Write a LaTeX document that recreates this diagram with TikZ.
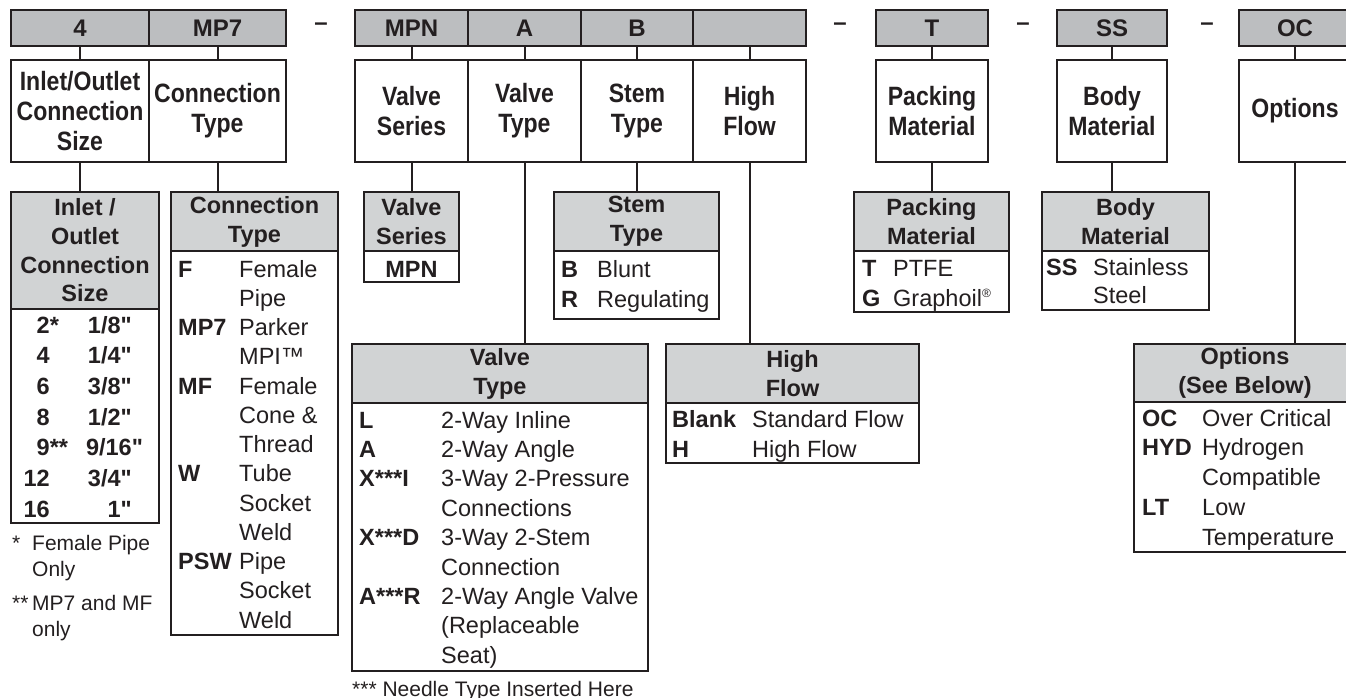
\documentclass[tikz,border=0pt]{standalone}
\usepackage{fontspec}
\setmainfont{Liberation Sans}
\newfontfamily\condfont[FakeStretch=0.87]{Liberation Sans Bold}
\usetikzlibrary{positioning}
\definecolor{ink}{HTML}{231F20}
\definecolor{codegray}{HTML}{BCBEC0}
\definecolor{headgray}{HTML}{D1D3D4}
\newcommand{\inch}{\XeTeXglyph\XeTeXcharglyph"22\relax}

\tikzset{
  codebox/.style={draw=ink, fill=codegray, line width=2.5pt, outer sep=0pt, inner sep=0pt,
    minimum height=36, font=\fontsize{24}{24}\selectfont\bfseries},
  lblbox/.style={draw=ink, fill=white, line width=2.5pt, outer sep=0pt, inner sep=0pt,
    minimum height=102, align=center, font=\condfont\fontsize{26.5}{30}\selectfont},
  tabhead/.style={draw=ink, fill=headgray, line width=2pt, outer sep=0pt, inner sep=0pt,
    align=center, font=\fontsize{23.5}{29}\selectfont\bfseries},
  tabbody/.style={draw=ink, fill=white, line width=2pt, outer sep=0pt, inner sep=0pt},
  link/.style={draw=ink, line width=2pt},
  cell/.style={inner sep=0pt, font=\fontsize{23.5}{#1}\selectfont},
  cell/.default=29.4,
  boldcell/.style={inner sep=0pt, font=\fontsize{23.5}{29.4}\selectfont\bfseries},
  note/.style={inner sep=0pt, font=\fontsize{21}{26}\selectfont},
}

\begin{document}
\begin{tikzpicture}[x=1pt,y=-1pt,every node/.style={text=ink}]
  \useasboundingbox (0,0) rectangle (1346,698);
  \clip (0,0) rectangle (1346,698);

  % ordering code row and its label boxes
  \foreach \n/\xa/\xb/\code/\lbl in {
      sz/11/149/4/{Inlet/Outlet\\Connection\\Size},
      ct/149/286/MP7/{Connection\\Type},
      vs/355/468/MPN/{Valve\\Series},
      vt/468/581/A/{Valve\\Type},
      st/581/693/B/{Stem\\Type},
      hf/693/806//{High\\Flow},
      pm/876/988/T/{Packing\\Material},
      bm/1057/1167/SS/{Body\\Material},
      op/1239/1351/OC/{Options}}
  {
    \node[codebox, minimum width=\xb-\xa] (code-\n) at ({(\xa+\xb)/2},28) {\code};
    \node[lblbox, minimum width=\xb-\xa] (lbl-\n) at ({(\xa+\xb)/2},111) {\lbl};
    \draw[link] (code-\n.south) -- (lbl-\n.north);
  }
  % separators
  \foreach \x [count=\i] in {321,840,1023,1207}
    \node[anchor=base, inner sep=0pt, font=\fontsize{24}{24}\selectfont\bfseries] (dash-\i) at (\x,31) {–};

  % Inlet / Outlet Connection Size
  \node[tabhead, minimum width=148, minimum height=117, font=\fontsize{23.5}{28.7}\selectfont\bfseries]
    (h-sz) at (85,250.5) {Inlet /\\Outlet\\Connection\\Size};
  \node[tabbody, minimum width=148, minimum height=214, anchor=north] (b-sz) at (h-sz.south) {};
  \draw[link] (lbl-sz.south) -- (lbl-sz.south |- h-sz.north);
  \foreach \cd/\mk/\sz [count=\i from 0] in {2/*/{1/8\inch}, 4//{1/4\inch}, 6//{3/8\inch},
      8//{1/2\inch}, 9/**/{9/16\rlap{\inch}}, 12//{3/4\inch}, 16//{1\inch}}
  {
    \node[boldcell, anchor=base east] (cd-\i) at (50,333+30.67*\i) {\cd\rlap{\mk}};
    \node[boldcell, anchor=base east] (in-\i) at (132,333+30.67*\i) {\sz};
  }
  \node[note, anchor=base west] (fn-1) at (12,550)
    {\begin{tabular}[t]{@{}p{20pt}@{}l@{}}*&Female Pipe\\&Only\end{tabular}};
  \node[note, anchor=base west] (fn-2) at (12,610)
    {\begin{tabular}[t]{@{}p{20pt}@{}l@{}}**&MP7 and MF\\&only\end{tabular}};

  % Connection Type
  \node[tabhead, minimum width=167, minimum height=59] (h-ct) at (254.5,221.5) {Connection\\Type};
  \node[tabbody, minimum width=167, minimum height=384, anchor=north] (b-ct) at (h-ct.south) {};
  \draw[link] (lbl-ct.south) -- (lbl-ct.south |- h-ct.north);
  \node[cell=29.25, anchor=base west] (r-ct) at (178,277)
    {\begin{tabular}[t]{@{}p{61pt}@{}l@{}}
      \textbf{F}&Female\\&Pipe\\
      \textbf{MP7}&Parker\\&MPI™\\
      \textbf{MF}&Female\\&Cone \&\\&Thread\\
      \textbf{W}&Tube\\&Socket\\&Weld\\
      \textbf{PSW}&Pipe\\&Socket\\&Weld
    \end{tabular}};

  % Valve Series
  \node[tabhead, minimum width=95, minimum height=59] (h-vs) at (411.5,221.5) {Valve\\Series};
  \node[tabbody, minimum width=95, minimum height=31, anchor=north] (b-vs) at (h-vs.south) {};
  \draw[link] (lbl-vs.south) -- (h-vs.north);
  \node[boldcell, anchor=base] (r-vs) at (411.5,277) {MPN};

  % Valve Type
  \node[tabhead, minimum width=296, minimum height=59] (h-vt) at (500,373.5) {Valve\\Type};
  \node[tabbody, minimum width=296, minimum height=268, anchor=north] (b-vt) at (h-vt.south) {};
  \draw[link] (lbl-vt.south) -- (lbl-vt.south |- h-vt.north);
  \node[cell, anchor=base west] (r-vt) at (359,428)
    {\begin{tabular}[t]{@{}p{82pt}@{}l@{}}
      \textbf{L}&2-Way Inline\\
      \textbf{A}&2-Way Angle\\
      \textbf{X***I}&3-Way 2-Pressure\\&Connections\\
      \textbf{X***D}&3-Way 2-Stem\\&Connection\\
      \textbf{A***R}&2-Way Angle Valve\\&(Replaceable\\&Seat)
    \end{tabular}};
  \node[note, anchor=base west] (fn-3) at (352,696) {*** Needle Type Inserted Here};

  % Stem Type
  \node[tabhead, minimum width=165, minimum height=59] (h-st) at (636.5,221.5) {Stem\\Type};
  \node[tabbody, minimum width=165, minimum height=68, anchor=north] (b-st) at (h-st.south) {};
  \draw[link] (lbl-st.south) -- (lbl-st.south |- h-st.north);
  \node[cell=30, anchor=base west] (r-st) at (561,277)
    {\begin{tabular}[t]{@{}p{36pt}@{}l@{}}\textbf{B}&Blunt\\\textbf{R}&Regulating\end{tabular}};

  % High Flow
  \node[tabhead, minimum width=253, minimum height=59] (h-hf) at (792.5,373.5) {High\\Flow};
  \node[tabbody, minimum width=253, minimum height=60, anchor=north] (b-hf) at (h-hf.south) {};
  \draw[link] (lbl-hf.south) -- (lbl-hf.south |- h-hf.north);
  \node[cell=30, anchor=base west] (r-hf) at (672,427)
    {\begin{tabular}[t]{@{}p{80pt}@{}l@{}}\textbf{Blank}&Standard Flow\\\textbf{H}&High Flow\end{tabular}};

  % Packing Material
  \node[tabhead, minimum width=155, minimum height=59] (h-pm) at (931.5,221.5) {Packing\\Material};
  \node[tabbody, minimum width=155, minimum height=61, anchor=north] (b-pm) at (h-pm.south) {};
  \draw[link] (lbl-pm.south) -- (lbl-pm.south |- h-pm.north);
  \node[cell=30, anchor=base west] (r-pm) at (862,276)
    {\begin{tabular}[t]{@{}p{31pt}@{}l@{}}\textbf{T}&PTFE\\
      \textbf{G}&Graphoil\raisebox{0.7ex}{\fontsize{12}{12}\selectfont ®}\end{tabular}};

  % Body Material
  \node[tabhead, minimum width=167, minimum height=59] (h-bm) at (1125.5,221.5) {Body\\Material};
  \node[tabbody, minimum width=167, minimum height=59, anchor=north] (b-bm) at (h-bm.south) {};
  \draw[link] (lbl-bm.south) -- (lbl-bm.south |- h-bm.north);
  \node[cell=28, anchor=base west] (r-bm) at (1046,275)
    {\begin{tabular}[t]{@{}p{47pt}@{}l@{}}\textbf{SS}&Stainless\\&Steel\end{tabular}};

  % Options
  \node[tabhead, minimum width=222, minimum height=58] (h-op) at (1245,373) {Options\\(See Below)};
  \node[tabbody, minimum width=222, minimum height=150, anchor=north] (b-op) at (h-op.south) {};
  \draw[link] (lbl-op.south) -- (lbl-op.south |- h-op.north);
  \node[cell=29.75, anchor=base west] (r-op) at (1142,426)
    {\begin{tabular}[t]{@{}p{60pt}@{}l@{}}
      \textbf{OC}&Over Critical\\
      \textbf{HYD}&Hydrogen\\&Compatible\\
      \textbf{LT}&Low\\&Temperature
    \end{tabular}};
\end{tikzpicture}
\end{document}
